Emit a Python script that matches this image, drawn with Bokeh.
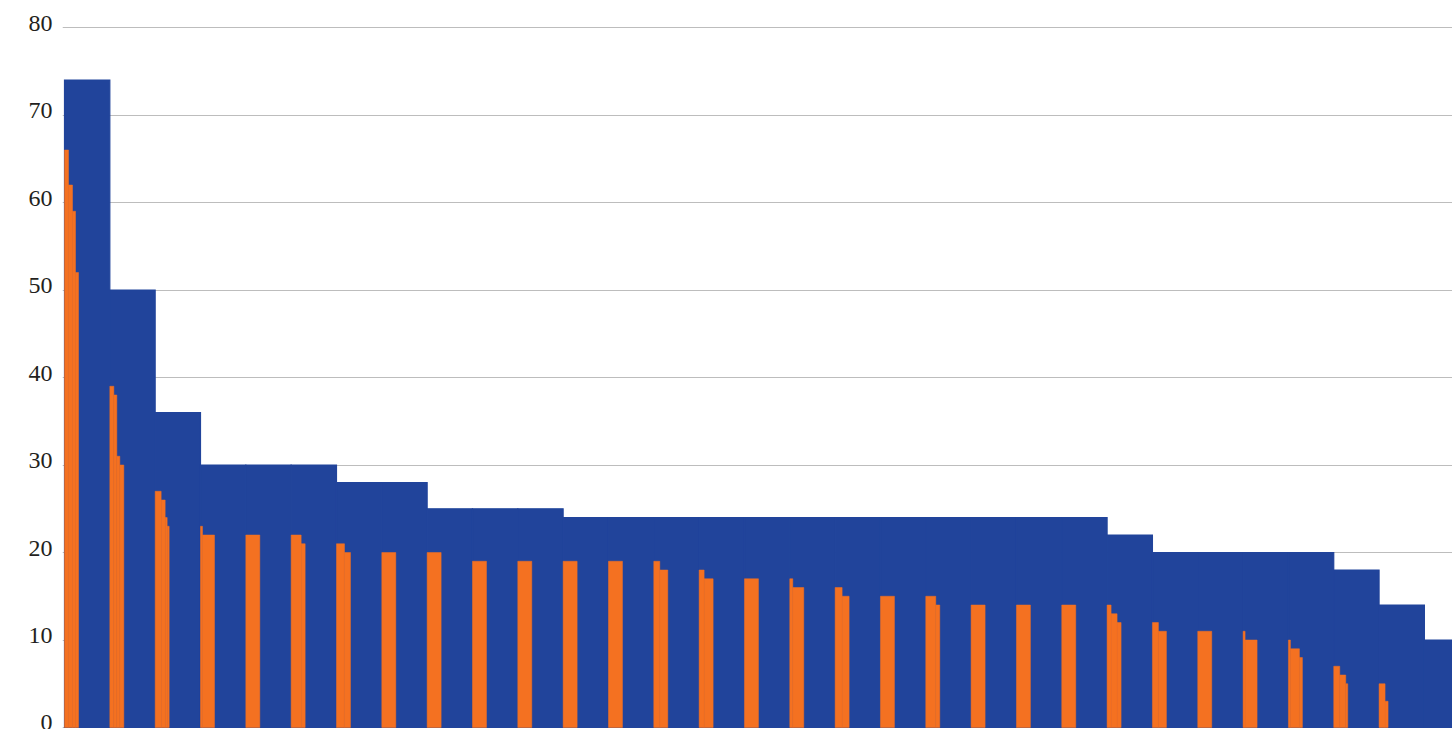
from bokeh.plotting import figure
from bokeh.models import Range1d, LinearAxis, FixedTicker, Grid, ColumnDataSource
from bokeh.embed import file_html
from bokeh.resources import INLINE

# ---- data -------------------------------------------------------------
y_ticks = [0, 10, 20, 30, 40, 50, 60, 70, 80]

blue_values = [74, 50, 36, 30, 30, 30, 28, 28, 25, 25, 25,
               24, 24, 24, 24, 24, 24, 24, 24, 24, 24, 24, 24,
               22, 20, 20, 20, 20, 18, 14, 10]

orange_values = [
    [66, 66, 66, 66, 62, 62, 62, 62, 59, 59, 59, 52, 52, 52],
    [39, 39, 39, 39, 38, 38, 38, 31, 31, 31, 30, 30, 30, 30],
    [27, 27, 27, 27, 27, 27, 26, 26, 26, 26, 24, 24, 23, 23],
    [23, 23, 22, 22, 22, 22, 22, 22, 22, 22, 22, 22, 22, 22],
    [22, 22, 22, 22, 22, 22, 22, 22, 22, 22, 22, 22, 22, 22],
    [22, 22, 22, 22, 22, 22, 22, 22, 22, 22, 21, 21, 21, 21],
    [21, 21, 21, 21, 21, 21, 21, 21, 20, 20, 20, 20, 20, 20],
    [20, 20, 20, 20, 20, 20, 20, 20, 20, 20, 20, 20, 20, 20],
    [20, 20, 20, 20, 20, 20, 20, 20, 20, 20, 20, 20, 20, 20],
    [19, 19, 19, 19, 19, 19, 19, 19, 19, 19, 19, 19, 19, 19],
    [19, 19, 19, 19, 19, 19, 19, 19, 19, 19, 19, 19, 19, 19],
    [19, 19, 19, 19, 19, 19, 19, 19, 19, 19, 19, 19, 19, 19],
    [19, 19, 19, 19, 19, 19, 19, 19, 19, 19, 19, 19, 19, 19],
    [19, 19, 19, 19, 19, 19, 18, 18, 18, 18, 18, 18, 18, 18],
    [18, 18, 18, 18, 18, 17, 17, 17, 17, 17, 17, 17, 17, 17],
    [17, 17, 17, 17, 17, 17, 17, 17, 17, 17, 17, 17, 17, 17],
    [17, 17, 17, 16, 16, 16, 16, 16, 16, 16, 16, 16, 16, 16],
    [16, 16, 16, 16, 16, 16, 16, 15, 15, 15, 15, 15, 15, 15],
    [15, 15, 15, 15, 15, 15, 15, 15, 15, 15, 15, 15, 15, 15],
    [15, 15, 15, 15, 15, 15, 15, 15, 15, 15, 14, 14, 14, 14],
    [14, 14, 14, 14, 14, 14, 14, 14, 14, 14, 14, 14, 14, 14],
    [14, 14, 14, 14, 14, 14, 14, 14, 14, 14, 14, 14, 14, 14],
    [14, 14, 14, 14, 14, 14, 14, 14, 14, 14, 14, 14, 14, 14],
    [14, 14, 14, 14, 13, 13, 13, 13, 13, 13, 12, 12, 12, 12],
    [12, 12, 12, 12, 12, 12, 11, 11, 11, 11, 11, 11, 11, 11],
    [11, 11, 11, 11, 11, 11, 11, 11, 11, 11, 11, 11, 11, 11],
    [11, 11, 10, 10, 10, 10, 10, 10, 10, 10, 10, 10, 10, 10],
    [10, 10, 9, 9, 9, 9, 9, 9, 9, 9, 9, 8, 8, 8],
    [7, 7, 7, 7, 7, 7, 6, 6, 6, 6, 6, 6, 5, 5],
    [5, 5, 5, 5, 5, 5, 3, 3, 3, 0, 0, 0, 0, 0],
    [0, 0, 0, 0, 0, 0, 0, 0, 0, 0, 0, 0, 0, 0],
]

# ---- styling / geometry ------------------------------------------------
BLUE = "#21449b"
ORANGE = "#f47121"
PX_X = 45.33          # pixels per category
PX_Y = 8.75           # pixels per unit
SLOT = 1.0 / PX_X     # width of one orange slot (data units)

x0 = -2.0 / PX_X
x1 = x0 + 1390.0 / PX_X
y0 = -2.0 / PX_Y
y1 = 80 + 8.0 / PX_Y
shift = 4.5 / PX_Y

blue_src = ColumnDataSource(dict(
    x=[i + 0.5 for i in range(len(blue_values))],
    top=blue_values,
))

# orange: consecutive equal slots within a category are drawn as one bar
ol, orr, otop = [], [], []
for i, vals in enumerate(orange_values):
    k = 0
    while k < len(vals):
        j = k
        while j + 1 < len(vals) and vals[j + 1] == vals[k]:
            j += 1
        if vals[k] > 0:
            ol.append(i + k * SLOT)
            orr.append(i + (j + 1) * SLOT)
            otop.append(vals[k])
        k = j + 1
orange_src = ColumnDataSource(dict(left=ol, right=orr, top=otop))

p = figure(width=1452, height=729, output_backend="svg", toolbar_location=None,
           x_range=Range1d(x0, x1), y_range=Range1d(y0, y1),
           x_axis_location=None, y_axis_location=None,
           min_border_left=62, min_border_right=0,
           min_border_top=19, min_border_bottom=0)
p.outline_line_color = None
p.background_fill_color = "white"
p.border_fill_color = "white"
p.grid.visible = False

p.extra_y_ranges = {"lab": Range1d(y0 - shift, y1 - shift)}
ax = LinearAxis(y_range_name="lab", ticker=FixedTicker(ticks=y_ticks))
ax.axis_line_color = None
ax.major_tick_line_color = None
ax.minor_tick_line_color = None
ax.major_tick_out = 0
ax.major_tick_in = 0
ax.minor_tick_out = 0
ax.major_label_standoff = 10
ax.major_label_text_font = "Liberation Serif"
ax.major_label_text_font_size = "24px"
ax.major_label_text_color = "#231f20"
p.add_layout(ax, "left")

grid = Grid(dimension=1, ticker=FixedTicker(ticks=y_ticks),
            grid_line_color="#bdbdbd", grid_line_width=1)
p.add_layout(grid)

p.vbar(x="x", top="top", bottom=0, width=1.0, source=blue_src,
       fill_color=BLUE, line_color=BLUE, line_width=1.2, line_join="miter")
p.quad(left="left", right="right", top="top", bottom=0, source=orange_src,
       fill_color=ORANGE, line_color=ORANGE, line_width=0.5, line_join="miter")

open("out.html", "w").write(file_html(p, INLINE))
